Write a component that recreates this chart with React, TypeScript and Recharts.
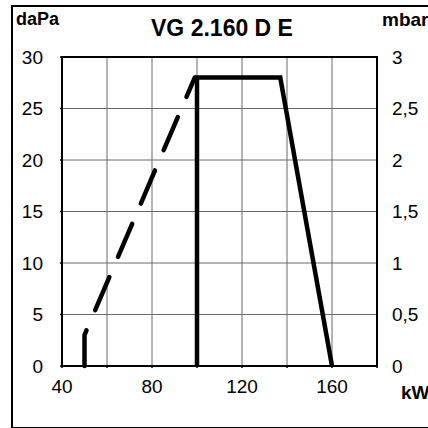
import { CartesianGrid, Line, LineChart, ReferenceArea, XAxis, YAxis } from "recharts";

// kW on x, daPa on y
const solidX = [100, 100, 137, 160];
const solidY = [0, 28, 28, 0];
const dashedX = [50, 50, 99];
const dashedY = [0, 3, 28];

const xTicks = [40, 60, 80, 100, 120, 140, 160, 180];
const xLabelled = [40, 80, 120, 160];
const yTicks = [0, 5, 10, 15, 20, 25, 30];
const mbarTicks = [0, 0.5, 1, 1.5, 2, 2.5, 3];

const solidData = solidX.map((x, i) => ({ x, y: solidY[i], mbar: solidY[i] / 10 }));
const dashedData = dashedX.map((x, i) => ({ x, y: dashedY[i] }));

const font = "Arial, 'Liberation Sans', sans-serif";
const tickStyle = { fontSize: 19, fill: "#000", fontFamily: font };

export default function App() {
  return (
    <div
      style={{
        position: "fixed",
        left: 0,
        top: 0,
        width: 428,
        height: 428,
        overflow: "hidden",
        background: "#fff",
        fontFamily: font,
      }}
    >
      <div
        style={{
          position: "absolute",
          left: 11,
          top: 5,
          width: 500,
          height: 420,
          border: "2px solid #000",
        }}
      />
      <div style={{ position: "absolute", left: 16, top: 9, fontSize: 18, fontWeight: "bold" }}>daPa</div>
      <div style={{ position: "absolute", left: 382, top: 9, fontSize: 19, fontWeight: "bold", whiteSpace: "nowrap" }}>
        mbar
      </div>
      <div style={{ position: "absolute", left: 401, top: 382, fontSize: 19, fontWeight: "bold", whiteSpace: "nowrap" }}>
        kW
      </div>
      <div
        style={{
          position: "absolute",
          left: 0,
          width: 444,
          top: 15,
          textAlign: "center",
          fontSize: 23,
          fontWeight: "bold",
        }}
      >
        VG 2.160 D E
      </div>
      <div style={{ position: "absolute", left: 0, top: 0 }}>
        <LineChart width={428} height={428} margin={{ top: 57, right: 0, bottom: 0, left: 0 }}>
          <CartesianGrid yAxisId="left" stroke="#6a6a6a" strokeWidth={1} />
          <XAxis
            dataKey="x"
            type="number"
            domain={[40, 180]}
            ticks={xTicks}
            interval={0}
            tickFormatter={(v: number) => (xLabelled.includes(v) ? String(v) : "")}
            height={62}
            axisLine={{ stroke: "#000", strokeWidth: 2 }}
            tickLine={{ stroke: "#000", strokeWidth: 1.5 }}
            tickSize={2}
            tickMargin={12}
            tick={tickStyle}
            allowDataOverflow
          />
          <YAxis
            yAxisId="left"
            type="number"
            domain={[0, 30]}
            ticks={yTicks}
            interval={0}
            width={62}
            axisLine={{ stroke: "#000", strokeWidth: 2 }}
            tickLine={{ stroke: "#000", strokeWidth: 1.5 }}
            tickSize={2}
            tickMargin={17}
            tick={tickStyle}
          />
          <YAxis
            yAxisId="right"
            orientation="right"
            type="number"
            domain={[0, 3]}
            ticks={mbarTicks}
            interval={0}
            tickFormatter={(v: number) => String(v).replace(".", ",")}
            width={51}
            axisLine={{ stroke: "#000", strokeWidth: 2 }}
            tickLine={false}
            tickSize={0}
            tickMargin={15}
            tick={tickStyle}
          />
          <ReferenceArea
            yAxisId="left"
            x1={40}
            x2={180}
            y1={0}
            y2={30}
            fill="none"
            stroke="#000"
            strokeWidth={2}
            ifOverflow="visible"
          />
          {/* same curve in mbar, invisible, so the right axis is drawn */}
          <Line
            yAxisId="right"
            data={solidData}
            dataKey="mbar"
            type="linear"
            stroke="none"
            dot={false}
            activeDot={false}
            isAnimationActive={false}
          />
          <Line
            yAxisId="left"
            data={dashedData}
            dataKey="y"
            type="linear"
            stroke="#000"
            strokeWidth={4.5}
            strokeDasharray="36 22"
            strokeLinecap="round"
            strokeLinejoin="round"
            dot={false}
            activeDot={false}
            isAnimationActive={false}
          />
          <Line
            yAxisId="left"
            data={solidData}
            dataKey="y"
            type="linear"
            stroke="#000"
            strokeWidth={4.5}
            strokeLinejoin="miter"
            dot={false}
            activeDot={false}
            isAnimationActive={false}
          />
        </LineChart>
      </div>
    </div>
  );
}
